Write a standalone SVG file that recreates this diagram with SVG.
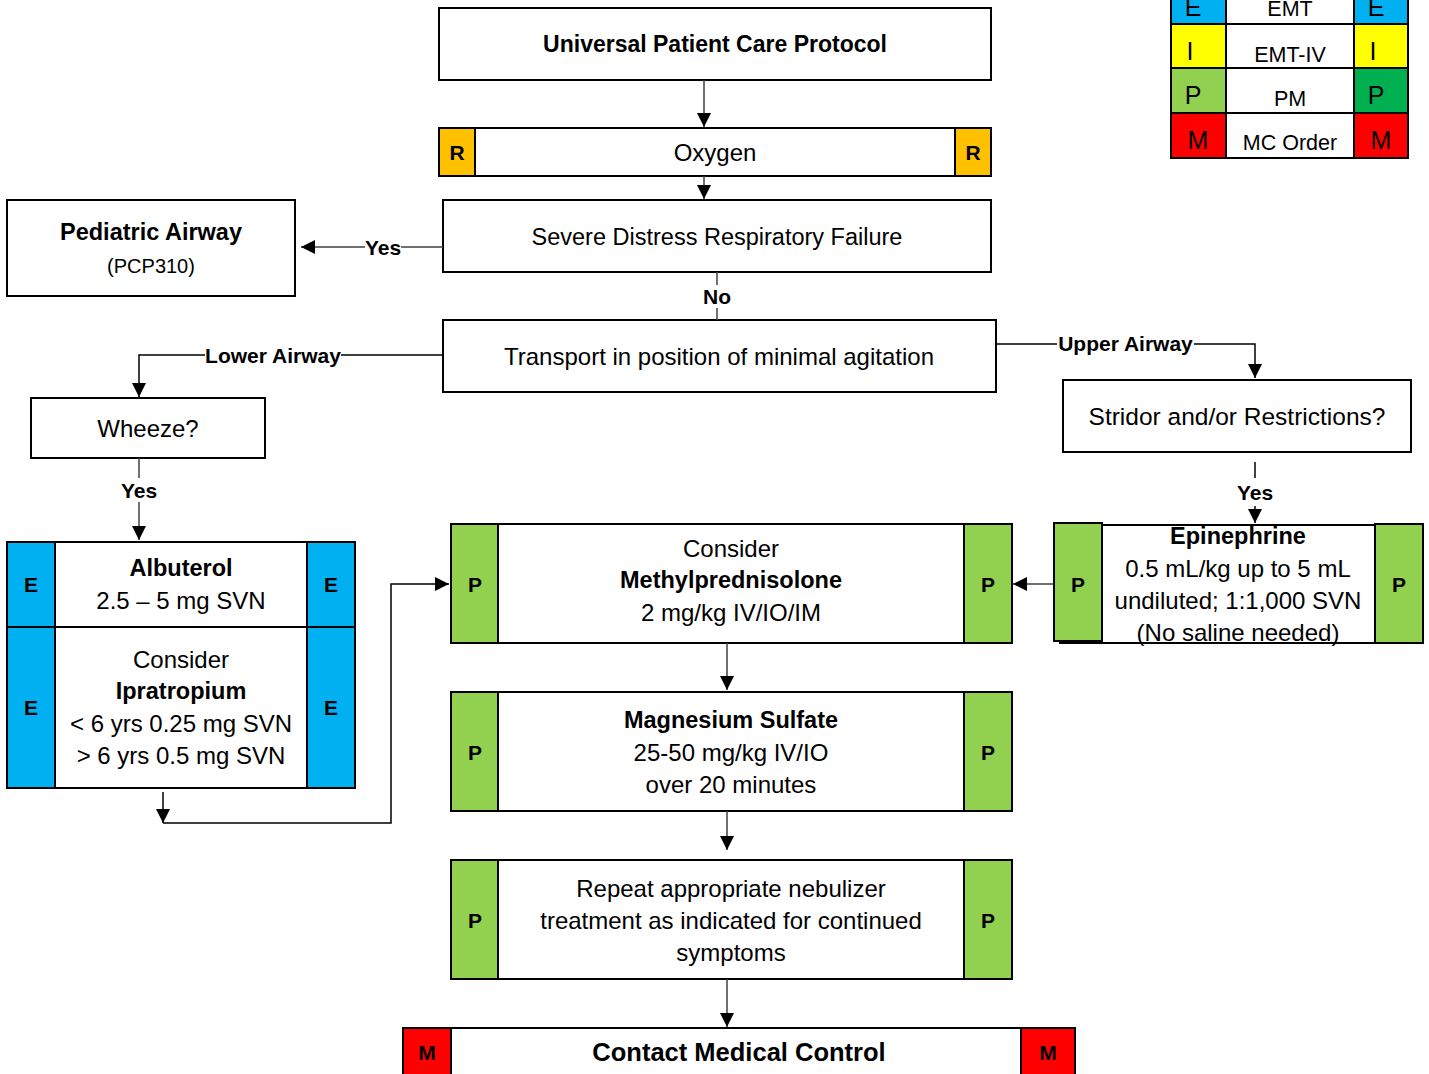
<svg xmlns="http://www.w3.org/2000/svg" width="1429" height="1074" viewBox="0 0 1429 1074">
<style>
text{font-family:"Liberation Sans",Arial,sans-serif;fill:#000;text-anchor:middle}
.t{font-size:24px}
.b{font-size:23.5px;font-weight:bold}
.lbl{font-size:21px;font-weight:bold}
.tag{font-size:21px;font-weight:bold}
.lg{font-size:25px}
.lgt{font-size:21.5px}
.box{fill:#fff;stroke:#000;stroke-width:2}
.cell{stroke:#000;stroke-width:2}
.E{fill:#00B0F0}.I{fill:#FFFF00}.P{fill:#92D050}.P2{fill:#00B050}.M{fill:#FF0000}.R{fill:#FFC000}
.c{fill:none;stroke:#404040;stroke-width:1.5}
.k{fill:none;stroke:#000;stroke-width:1.5}
</style>
<defs>
<marker id="ah" markerWidth="14" markerHeight="14" viewBox="0 0 10 10" refX="10" refY="5" orient="auto" markerUnits="userSpaceOnUse">
<path d="M0,0 L10,5 L0,10 z" fill="#000"/>
</marker>
</defs>
<rect width="1429" height="1074" fill="#fff"/>

<g id="legend">
<rect class="cell E" x="1171" y="-21" width="55" height="45"/>
<rect class="box" x="1226" y="-21" width="128" height="45"/>
<rect class="cell E" x="1354" y="-21" width="54" height="45"/>
<rect class="cell I" x="1171" y="24" width="55" height="44"/>
<rect class="box" x="1226" y="24" width="128" height="44"/>
<rect class="cell I" x="1354" y="24" width="54" height="44"/>
<rect class="cell P" x="1171" y="68" width="55" height="45"/>
<rect class="box" x="1226" y="68" width="128" height="45"/>
<rect class="cell P2" x="1354" y="68" width="54" height="45"/>
<rect class="cell M" x="1171" y="113" width="55" height="45"/>
<rect class="box" x="1226" y="113" width="128" height="45"/>
<rect class="cell M" x="1354" y="113" width="54" height="45"/>
<text class="lg" x="1193" y="16">E</text><text class="lgt" x="1290" y="16">EMT</text><text class="lg" x="1376" y="16">E</text>
<text class="lg" x="1190" y="60">I</text><text class="lgt" x="1290" y="62">EMT-IV</text><text class="lg" x="1373" y="60">I</text>
<text class="lg" x="1193" y="104">P</text><text class="lgt" x="1290" y="106">PM</text><text class="lg" x="1376" y="104">P</text>
<text class="lg" x="1198" y="149">M</text><text class="lgt" x="1290" y="150">MC Order</text><text class="lg" x="1381" y="149">M</text>
</g>

<g id="universal">
<rect class="box" x="439" y="8" width="552" height="72"/>
<text class="b" x="715" y="52" style="font-size:23px">Universal Patient Care Protocol</text>
</g>

<g id="oxygen">
<rect class="box" x="439" y="128" width="552" height="48"/>
<rect class="cell R" x="439" y="128" width="36" height="48"/>
<rect class="cell R" x="955" y="128" width="36" height="48"/>
<text class="tag" x="457" y="160">R</text>
<text class="tag" x="973" y="160">R</text>
<text class="t" x="715" y="161">Oxygen</text>
</g>

<g id="severe">
<rect class="box" x="443" y="200" width="548" height="72"/>
<text class="t" x="717" y="245" style="font-size:23.5px">Severe Distress Respiratory Failure</text>
</g>

<g id="pediatric">
<rect class="box" x="7" y="200" width="288" height="96"/>
<text class="b" x="151" y="240">Pediatric Airway</text>
<text class="t" x="151" y="273" style="font-size:20px">(PCP310)</text>
</g>

<g id="transport">
<rect class="box" x="443" y="320" width="553" height="72"/>
<text class="t" x="719" y="365">Transport in position of minimal agitation</text>
</g>

<g id="wheeze">
<rect class="box" x="31" y="398" width="234" height="60"/>
<text class="t" x="148" y="437">Wheeze?</text>
</g>

<g id="stridor">
<rect class="box" x="1063" y="380" width="348" height="72"/>
<text class="t" x="1237" y="425" style="font-size:24.5px">Stridor and/or Restrictions?</text>
</g>

<g id="albuterol">
<rect class="box" x="7" y="542" width="348" height="246"/>
<line class="cell" x1="7" y1="627" x2="355" y2="627"/>
<rect class="cell E" x="7" y="542" width="48" height="85"/>
<rect class="cell E" x="307" y="542" width="48" height="85"/>
<rect class="cell E" x="7" y="627" width="48" height="161"/>
<rect class="cell E" x="307" y="627" width="48" height="161"/>
<text class="tag" x="31" y="592">E</text>
<text class="tag" x="331" y="592">E</text>
<text class="tag" x="31" y="715">E</text>
<text class="tag" x="331" y="715">E</text>
<text class="b" x="181" y="576">Albuterol</text>
<text class="t" x="181" y="609">2.5 – 5 mg SVN</text>
<text class="t" x="181" y="668">Consider</text>
<text class="b" x="181" y="699">Ipratropium</text>
<text class="t" x="181" y="732">&lt; 6 yrs 0.25 mg SVN</text>
<text class="t" x="181" y="764">&gt; 6 yrs 0.5 mg SVN</text>
</g>

<g id="methylpred">
<rect class="box" x="451" y="524" width="561" height="119"/>
<rect class="cell P" x="451" y="524" width="47" height="119"/>
<rect class="cell P" x="964" y="524" width="48" height="119"/>
<text class="tag" x="475" y="592">P</text>
<text class="tag" x="988" y="592">P</text>
<text class="t" x="731" y="557">Consider</text>
<text class="b" x="731" y="588">Methylprednisolone</text>
<text class="t" x="731" y="621">2 mg/kg IV/IO/IM</text>
</g>

<g id="epinephrine">
<rect class="box" x="1060" y="525" width="363" height="118"/>
<rect class="cell P" x="1054" y="523" width="48" height="118"/>
<rect class="cell P" x="1375" y="524" width="48" height="119"/>
<text class="tag" x="1078" y="592">P</text>
<text class="tag" x="1399" y="592">P</text>
<text class="b" x="1238" y="544">Epinephrine</text>
<text class="t" x="1238" y="577">0.5 mL/kg up to 5 mL</text>
<text class="t" x="1238" y="609">undiluted; 1:1,000 SVN</text>
<text class="t" x="1238" y="641">(No saline needed)</text>
</g>

<g id="magnesium">
<rect class="box" x="451" y="692" width="561" height="119"/>
<rect class="cell P" x="451" y="692" width="47" height="119"/>
<rect class="cell P" x="964" y="692" width="48" height="119"/>
<text class="tag" x="475" y="760">P</text>
<text class="tag" x="988" y="760">P</text>
<text class="b" x="731" y="728">Magnesium Sulfate</text>
<text class="t" x="731" y="761">25-50 mg/kg IV/IO</text>
<text class="t" x="731" y="793">over 20 minutes</text>
</g>

<g id="repeat">
<rect class="box" x="451" y="860" width="561" height="119"/>
<rect class="cell P" x="451" y="860" width="47" height="119"/>
<rect class="cell P" x="964" y="860" width="48" height="119"/>
<text class="tag" x="475" y="928">P</text>
<text class="tag" x="988" y="928">P</text>
<text class="t" x="731" y="897">Repeat appropriate nebulizer</text>
<text class="t" x="731" y="929">treatment as indicated for continued</text>
<text class="t" x="731" y="961">symptoms</text>
</g>

<g id="contact">
<rect class="box" x="403" y="1028" width="672" height="60"/>
<rect class="cell M" x="403" y="1028" width="48" height="60"/>
<rect class="cell M" x="1021" y="1028" width="54" height="60"/>
<text class="tag" x="427" y="1060">M</text>
<text class="tag" x="1048" y="1060">M</text>
<text class="b" x="739" y="1061" style="font-size:25.5px">Contact Medical Control</text>
</g>

<g id="connectors">
<line class="c" x1="704" y1="80" x2="704" y2="127" marker-end="url(#ah)"/>
<line class="c" x1="704" y1="176" x2="704" y2="199" marker-end="url(#ah)"/>
<line class="c" x1="443" y1="247" x2="301" y2="247" marker-end="url(#ah)"/>
<rect x="365" y="236" width="36" height="22" fill="#fff"/>
<text class="lbl" x="383" y="255">Yes</text>
<line class="c" x1="717" y1="272" x2="717" y2="320"/>
<rect x="701" y="285" width="32" height="23" fill="#fff"/>
<text class="lbl" x="717" y="304">No</text>
<polyline class="k" points="443,355 139,355 139,397" marker-end="url(#ah)"/>
<rect x="205" y="344" width="136" height="22" fill="#fff"/>
<text class="lbl" x="273" y="363">Lower Airway</text>
<line class="c" x1="139" y1="458" x2="139" y2="540" marker-end="url(#ah)"/>
<rect x="121" y="478" width="36" height="24" fill="#fff"/>
<text class="lbl" x="139" y="498">Yes</text>
<polyline class="k" points="996,344 1255,344 1255,378" marker-end="url(#ah)"/>
<rect x="1057" y="333" width="137" height="22" fill="#fff"/>
<text class="lbl" x="1125.5" y="351">Upper Airway</text>
<line class="k" x1="1255" y1="462" x2="1255" y2="478"/>
<line class="k" x1="1255" y1="506" x2="1255" y2="523" marker-end="url(#ah)"/>
<text class="lbl" x="1255" y="500">Yes</text>
<line class="c" x1="1053" y1="584" x2="1013" y2="584" marker-end="url(#ah)"/>
<line class="k" x1="163" y1="792" x2="163" y2="823" marker-end="url(#ah)"/>
<polyline class="k" points="163,823 391,823 391,584 449,584" marker-end="url(#ah)"/>
<line class="c" x1="727" y1="643" x2="727" y2="690" marker-end="url(#ah)"/>
<line class="c" x1="727" y1="811" x2="727" y2="850" marker-end="url(#ah)"/>
<line class="c" x1="727" y1="979" x2="727" y2="1027" marker-end="url(#ah)"/>
</g>
</svg>
